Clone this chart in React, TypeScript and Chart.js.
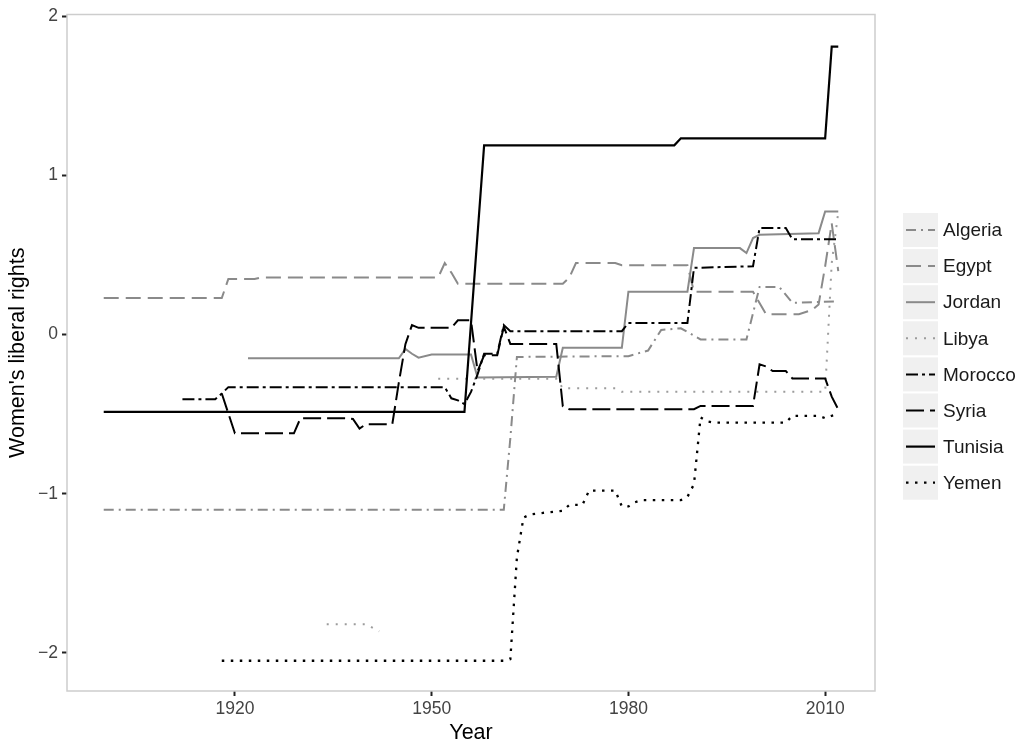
import React, { useEffect, useRef } from 'react';
import { Chart, registerables } from 'chart.js';

Chart.register(...registerables);

// ---- Axis ticks ----
const X_TICKS = [1920, 1950, 1980, 2010];
const Y_TICKS = [-2, -1, 0, 1, 2];
const X_MIN = 1894.4;
const X_MAX = 2017.6;
const Y_MIN = -2.24;
const Y_MAX = 2.0125;

// ---- Series (year, value) ----
const algeriaYears = [1900, 1961, 1962, 1963, 1980, 1983, 1985, 1988, 1991, 1998, 2000, 2003, 2005, 2012];
const algeriaValues = [-1.1, -1.1, -0.65, -0.14, -0.135, -0.1, 0.03, 0.04, -0.03, -0.03, 0.3, 0.3, 0.2, 0.21];

const egyptYears = [1900, 1918, 1919, 1923, 1924, 1951, 1952, 1953, 1954, 1970, 1971, 1972, 1978, 1979, 1989, 1990, 1999, 2001, 2006, 2008, 2009, 2010, 2011, 2012];
const egyptValues = [0.23, 0.23, 0.35, 0.35, 0.36, 0.36, 0.45, 0.39, 0.32, 0.32, 0.36, 0.45, 0.45, 0.436, 0.436, 0.27, 0.27, 0.128, 0.128, 0.155, 0.19, 0.43, 0.7, 0.4];

const jordanYears = [1922, 1945, 1946, 1947, 1948, 1950, 1956, 1957, 1969, 1970, 1979, 1980, 1989, 1990, 1997, 1998, 1999, 2000, 2009, 2010, 2012];
const jordanValues = [-0.149, -0.149, -0.09, -0.12, -0.145, -0.125, -0.125, -0.27, -0.265, -0.083, -0.083, 0.27, 0.27, 0.544, 0.544, 0.513, 0.607, 0.628, 0.638, 0.774, 0.774];

const libyaYears = [1934, 1940, 1942, 1946, 1951, 1969, 1970, 1978, 1979, 2010, 2011, 2012];
const libyaValues = [-1.82, -1.82, -1.865, null, -0.277, -0.277, -0.337, -0.337, -0.359, -0.359, 0.45, 0.77];

const moroccoYears = [1912, 1917, 1918, 1919, 1952, 1953, 1954, 1955, 1956, 1957, 1958, 1960, 1961, 1962, 1979, 1980, 1989, 1990, 1999, 2000, 2004, 2005, 2012];
const moroccoValues = [-0.406, -0.406, -0.37, -0.33, -0.33, -0.4, -0.413, -0.436, -0.36, -0.25, -0.12, -0.12, 0.06, 0.022, 0.022, 0.074, 0.074, 0.42, 0.43, 0.67, 0.67, 0.6, 0.6];

const syriaYears = [1918, 1920, 1929, 1930, 1937, 1938, 1939, 1940, 1944, 1945, 1946, 1947, 1948, 1953, 1954, 1956, 1957, 1958, 1960, 1961, 1962, 1969, 1970, 1971, 1990, 1991, 1999, 2000, 2001, 2002, 2004, 2005, 2010, 2011, 2012];
const syriaValues = [-0.37, -0.62, -0.62, -0.525, -0.525, -0.53, -0.59, -0.563, -0.563, -0.3, -0.06, 0.06, 0.043, 0.043, 0.09, 0.09, -0.23, -0.13, -0.13, 0.05, -0.058, -0.058, -0.45, -0.469, -0.469, -0.448, -0.448, -0.187, -0.2, -0.229, -0.229, -0.275, -0.275, -0.39, -0.47];

const tunisiaYears = [1900, 1955, 1958, 1987, 1988, 2010, 2011, 2012];
const tunisiaValues = [-0.486, -0.486, 1.19, 1.19, 1.234, 1.234, 1.81, 1.81];

const yemenYears = [1918, 1961, 1962, 1963, 1964, 1965, 1967, 1970, 1971, 1973, 1974, 1978, 1979, 1980, 1981, 1982, 1988, 1989, 1990, 1991, 1992, 1993, 2004, 2005, 2009, 2010, 2011, 2012];
const yemenValues = [-2.05, -2.05, -2.04, -1.4, -1.15, -1.13, -1.12, -1.107, -1.07, -1.07, -0.98, -0.98, -1.08, -1.08, -1.054, -1.04, -1.04, -1.02, -0.94, -0.52, -0.545, -0.553, -0.553, -0.51, -0.51, -0.525, -0.51, -0.5];

const GRAY = '#8a8a8a';
const LIGHT_GRAY = '#9c9c9c';
const BLACK = '#000000';
const FONT = '"Liberation Sans", Arial, Helvetica, sans-serif';

const SERIES = [
  { label: 'Algeria', years: algeriaYears, values: algeriaValues, color: GRAY, dash: [10, 5, 2, 5], width: 2 },
  { label: 'Egypt', years: egyptYears, values: egyptValues, color: GRAY, dash: [15, 7], width: 2 },
  { label: 'Jordan', years: jordanYears, values: jordanValues, color: GRAY, dash: [], width: 2 },
  { label: 'Libya', years: libyaYears, values: libyaValues, color: LIGHT_GRAY, dash: [2, 7], width: 2 },
  { label: 'Morocco', years: moroccoYears, values: moroccoValues, color: BLACK, dash: [12, 4, 3, 4], width: 2 },
  { label: 'Syria', years: syriaYears, values: syriaValues, color: BLACK, dash: [18, 6], width: 2 },
  { label: 'Tunisia', years: tunisiaYears, values: tunisiaValues, color: BLACK, dash: [], width: 2.2 },
  { label: 'Yemen', years: yemenYears, values: yemenValues, color: BLACK, dash: [2.5, 6.5], width: 2.3 },
];

const panelBorder = {
  id: 'panelBorder',
  beforeDatasetsDraw(chart: any) {
    const { ctx, chartArea } = chart;
    ctx.save();
    ctx.strokeStyle = '#cdcdcd';
    ctx.lineWidth = 1.5;
    ctx.strokeRect(chartArea.left, chartArea.top, chartArea.right - chartArea.left, chartArea.bottom - chartArea.top);
    ctx.restore();
  },
};

const customLegend = {
  id: 'customLegend',
  afterDraw(chart: any) {
    const { ctx, chartArea } = chart;
    const x0 = chartArea.right + 28;
    const keyW = 35;
    const keyH = 34;
    const rowH = 36.1;
    const yStart = 213;
    ctx.save();
    chart.data.datasets.forEach((ds: any, i: number) => {
      const top = yStart + i * rowH;
      ctx.fillStyle = '#f0f0f0';
      ctx.fillRect(x0, top, keyW, keyH);
      ctx.save();
      ctx.strokeStyle = ds.borderColor;
      ctx.lineWidth = ds.borderWidth;
      ctx.setLineDash(ds.borderDash || []);
      ctx.lineCap = 'butt';
      ctx.beginPath();
      ctx.moveTo(x0 + 3, top + keyH / 2);
      ctx.lineTo(x0 + keyW - 3, top + keyH / 2);
      ctx.stroke();
      ctx.restore();
      ctx.fillStyle = '#1a1a1a';
      ctx.font = `19px ${FONT}`;
      ctx.textBaseline = 'middle';
      ctx.textAlign = 'left';
      ctx.fillText(ds.label, x0 + keyW + 5, top + keyH / 2 + 1);
    });
    ctx.restore();
  },
};

function App() {
  const canvasRef = useRef<HTMLCanvasElement | null>(null);

  useEffect(() => {
    if (!canvasRef.current) return;
    const datasets = SERIES.map((s, i) => ({
      label: s.label,
      data: s.years.map((yr, j) => ({ x: yr, y: s.values[j] })),
      borderColor: s.color,
      backgroundColor: s.color,
      borderWidth: s.width,
      borderDash: s.dash,
      borderCapStyle: 'butt',
      borderJoinStyle: 'miter',
      pointRadius: 0,
      pointHoverRadius: 0,
      tension: 0,
      spanGaps: false,
      fill: false,
      order: -i,
    }));

    const chart = new Chart(canvasRef.current, {
      type: 'line',
      data: { datasets },
      options: {
        animation: false,
        responsive: false,
        events: [],
        layout: { padding: { top: 12, right: 148, bottom: 0, left: 0 } },
        plugins: {
          legend: { display: false },
          tooltip: { enabled: false },
        },
        scales: {
          x: {
            type: 'linear',
            min: X_MIN,
            max: X_MAX,
            afterBuildTicks: (scale: any) => {
              scale.ticks = X_TICKS.map((v) => ({ value: v }));
            },
            afterFit: (scale: any) => {
              scale.height = 55;
            },
            grid: {
              drawOnChartArea: false,
              drawTicks: true,
              tickLength: 5,
              tickColor: '#222',
              tickWidth: 2,
            },
            border: { display: false },
            ticks: {
              padding: 3,
              color: '#444',
              font: { family: FONT, size: 17.5 },
              maxRotation: 0,
              callback: (v: any) => String(v),
            },
            title: {
              display: true,
              text: 'Year',
              color: '#000',
              font: { family: FONT, size: 21.5 },
              padding: { top: 0, bottom: 0 },
            },
          },
          y: {
            type: 'linear',
            min: Y_MIN,
            max: Y_MAX,
            afterBuildTicks: (scale: any) => {
              scale.ticks = Y_TICKS.map((v) => ({ value: v }));
            },
            afterFit: (scale: any) => {
              scale.width = 67;
            },
            grid: {
              drawOnChartArea: false,
              drawTicks: true,
              tickLength: 5,
              tickColor: '#222',
              tickWidth: 2,
            },
            border: { display: false },
            ticks: {
              padding: 4,
              color: '#444',
              font: { family: FONT, size: 17.5 },
              callback: (v: any) => (v < 0 ? '\u2212' + Math.abs(v) : String(v)),
            },
            title: {
              display: true,
              text: "Women's liberal rights",
              color: '#000',
              font: { family: FONT, size: 21.5 },
              padding: { top: 5, bottom: 0 },
            },
          },
        },
      },
      plugins: [panelBorder, customLegend],
    } as any);

    return () => chart.destroy();
  }, []);

  return (
    <div style={{ position: 'absolute', left: 0, top: 0, width: 1023, height: 746, background: '#fff' }}>
      <canvas ref={canvasRef} width={1023} height={746} style={{ display: 'block' }} />
    </div>
  );
}

export default App;
